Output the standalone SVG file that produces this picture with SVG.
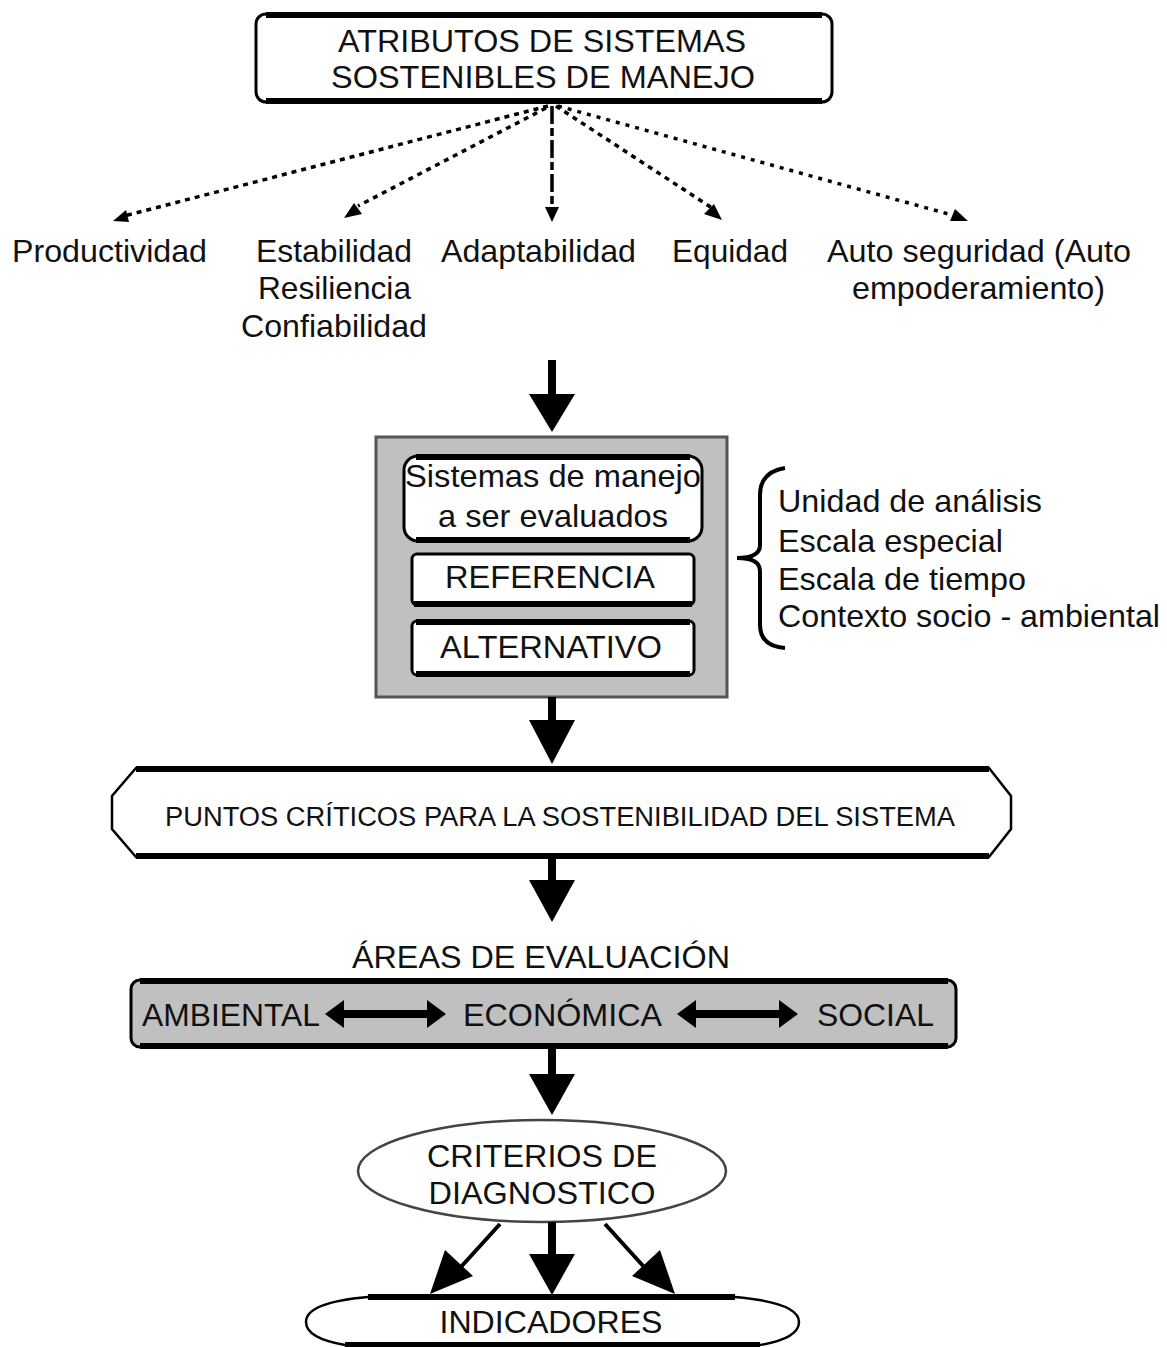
<svg xmlns="http://www.w3.org/2000/svg" width="1167" height="1347" viewBox="0 0 1167 1347">
<style>
text{font-family:"Liberation Sans",Arial,sans-serif;fill:#111;}
.t30{font-size:32px;}
.dot{stroke:#000;stroke-width:3.5;fill:none;stroke-dasharray:5 5;}
.thin{stroke:#000;stroke-width:2.5;fill:none;}
.thick{stroke:#000;stroke-width:6;fill:none;}
.shaft{stroke:#000;stroke-width:8;fill:none;}
</style>
<rect width="1167" height="1347" fill="#fff"/>
<g id="node-atributos">
  <rect x="256" y="14" width="576" height="88" rx="10" class="thin" style="stroke-width:3"/>
  <line class="thick" x1="266" y1="15" x2="822" y2="15"/>
  <line class="thick" x1="266" y1="101" x2="822" y2="101"/>
  <text class="t30" x="542" y="52" text-anchor="middle" textLength="408" lengthAdjust="spacingAndGlyphs">ATRIBUTOS DE SISTEMAS</text>
  <text class="t30" x="543" y="88" text-anchor="middle" textLength="424" lengthAdjust="spacingAndGlyphs">SOSTENIBLES DE MANEJO</text>
</g>
<g id="node-productividad">
  <text class="t30" x="12" y="262" textLength="195" lengthAdjust="spacingAndGlyphs">Productividad</text>
</g>
<g id="node-estabilidad">
  <text class="t30" x="256" y="262" textLength="156" lengthAdjust="spacingAndGlyphs">Estabilidad</text>
  <text class="t30" x="258" y="299" textLength="153" lengthAdjust="spacingAndGlyphs">Resiliencia</text>
  <text class="t30" x="241" y="337" textLength="186" lengthAdjust="spacingAndGlyphs">Confiabilidad</text>
</g>
<g id="node-adaptabilidad">
  <text class="t30" x="441" y="262" textLength="195" lengthAdjust="spacingAndGlyphs">Adaptabilidad</text>
</g>
<g id="node-equidad">
  <text class="t30" x="672" y="262" textLength="116" lengthAdjust="spacingAndGlyphs">Equidad</text>
</g>
<g id="node-autoseguridad">
  <text class="t30" x="827" y="262" textLength="304" lengthAdjust="spacingAndGlyphs">Auto seguridad (Auto</text>
  <text class="t30" x="852" y="299" textLength="253" lengthAdjust="spacingAndGlyphs">empoderamiento)</text>
</g>
<g id="node-sistemas">
  <rect x="376" y="437" width="351" height="260" fill="#c0c0c0" stroke="#555" stroke-width="3"/>
  <rect x="404" y="456" width="298" height="85" rx="14" fill="#fff" stroke="#000" stroke-width="3"/>
  <line class="thick" x1="416" y1="457" x2="690" y2="457"/>
  <line class="thick" x1="416" y1="540" x2="690" y2="540"/>
  <text class="t30" x="553" y="487" text-anchor="middle" textLength="296" lengthAdjust="spacingAndGlyphs">Sistemas de manejo</text>
  <text class="t30" x="553" y="527" text-anchor="middle" textLength="230" lengthAdjust="spacingAndGlyphs">a ser evaluados</text>
  <rect x="412" y="554" width="282" height="51" rx="5" fill="#fff" stroke="#000" stroke-width="3"/>
  <line class="thick" x1="414" y1="604" x2="692" y2="604"/>
  <text class="t30" x="550" y="588" text-anchor="middle" textLength="210" lengthAdjust="spacingAndGlyphs">REFERENCIA</text>
  <rect x="412" y="621" width="282" height="54" rx="5" fill="#fff" stroke="#000" stroke-width="3"/>
  <line class="thick" x1="416" y1="622" x2="690" y2="622"/>
  <line class="thick" x1="416" y1="674" x2="690" y2="674"/>
  <text class="t30" x="551" y="658" text-anchor="middle" textLength="222" lengthAdjust="spacingAndGlyphs">ALTERNATIVO</text>
</g>
<g id="node-contexto">
  <path d="M785,468 Q760,472 760,495 L760,545 Q760,558 737,558 Q760,558 760,571 L760,625 Q760,646 785,648" fill="none" stroke="#000" stroke-width="4"/>
  <text class="t30" x="778" y="512" textLength="264" lengthAdjust="spacingAndGlyphs">Unidad de análisis</text>
  <text class="t30" x="778" y="552" textLength="225" lengthAdjust="spacingAndGlyphs">Escala especial</text>
  <text class="t30" x="778" y="590" textLength="248" lengthAdjust="spacingAndGlyphs">Escala de tiempo</text>
  <text class="t30" x="778" y="627" textLength="382" lengthAdjust="spacingAndGlyphs">Contexto socio - ambiental</text>
</g>
<g id="node-puntos">
  <polygon points="136,768 989,768 1011,796 1011,829 989,857 136,857 112,829 112,796" fill="#fff" stroke="#000" stroke-width="2.5"/>
  <line class="thick" x1="136" y1="769" x2="989" y2="769"/>
  <line class="thick" x1="136" y1="856" x2="989" y2="856"/>
  <text x="560" y="826" text-anchor="middle" style="font-size:27px" textLength="790" lengthAdjust="spacingAndGlyphs">PUNTOS CRÍTICOS PARA LA SOSTENIBILIDAD DEL SISTEMA</text>
</g>
<g id="node-areas">
  <text class="t30" x="541" y="968" text-anchor="middle" textLength="378" lengthAdjust="spacingAndGlyphs">ÁREAS DE EVALUACIÓN</text>
  <rect x="131" y="980" width="825" height="67" rx="9" fill="#c0c0c0" stroke="#000" stroke-width="3"/>
  <line class="thick" x1="140" y1="981" x2="948" y2="981"/>
  <line class="thick" x1="140" y1="1046" x2="948" y2="1046"/>
  <text class="t30" x="142" y="1026" textLength="178" lengthAdjust="spacingAndGlyphs">AMBIENTAL</text>
  <text class="t30" x="463" y="1026" textLength="199" lengthAdjust="spacingAndGlyphs">ECONÓMICA</text>
  <text class="t30" x="817" y="1026" textLength="117" lengthAdjust="spacingAndGlyphs">SOCIAL</text>
</g>
<g id="node-criterios">
  <ellipse cx="542" cy="1171" rx="184" ry="51" fill="#fff" stroke="#444" stroke-width="2.5"/>
  <text class="t30" x="542" y="1167" text-anchor="middle" textLength="230" lengthAdjust="spacingAndGlyphs">CRITERIOS DE</text>
  <text class="t30" x="542" y="1204" text-anchor="middle" textLength="227" lengthAdjust="spacingAndGlyphs">DIAGNOSTICO</text>
</g>
<g id="node-indicadores">
  <path d="M368,1297 L735,1297 C782,1301 799,1310 799,1322 C799,1334 784,1341 760,1345 L345,1345 C322,1341 306,1334 306,1322 C306,1310 322,1301 368,1297 Z" fill="#fff" stroke="#000" stroke-width="2.5"/>
  <line class="thick" x1="368" y1="1297" x2="735" y2="1297"/>
  <line class="thick" x1="345" y1="1345" x2="760" y2="1345"/>
  <text class="t30" x="551" y="1333" text-anchor="middle" textLength="223" lengthAdjust="spacingAndGlyphs">INDICADORES</text>
</g>
<g id="connectors">
  <line class="dot" x1="548" y1="106" x2="124" y2="216"/>
  <polygon points="113,221 126,210 129,222"/>
  <line class="dot" x1="546" y1="108" x2="358" y2="206"/>
  <polygon points="344,218 354,203 362,214"/>
  <line class="dot" x1="552" y1="106" x2="552" y2="208" style="stroke-dasharray:18 4 8 4"/>
  <polygon points="545,207 559,207 552,222"/>
  <line class="dot" x1="556" y1="106" x2="712" y2="208"/>
  <polygon points="722,220 704,214 714,204"/>
  <line class="dot" x1="558" y1="106" x2="952" y2="215" style="stroke-dasharray:4 6"/>
  <polygon points="968,221 950,221 955,209"/>
  <line class="shaft" x1="552" y1="360" x2="552" y2="398"/>
  <polygon points="529,394 575,394 552,432"/>
  <line class="shaft" x1="552" y1="697" x2="552" y2="724"/>
  <polygon points="529,720 575,720 552,764"/>
  <line class="shaft" x1="552" y1="858" x2="552" y2="884"/>
  <polygon points="529,880 575,880 552,922"/>
  <line class="shaft" x1="552" y1="1048" x2="552" y2="1078"/>
  <polygon points="529,1074 575,1074 552,1115"/>
  <line class="shaft" x1="552" y1="1222" x2="552" y2="1258"/>
  <polygon points="529,1254 575,1254 552,1295"/>
  <line class="thin" x1="500" y1="1224" x2="460" y2="1268" style="stroke-width:4"/>
  <polygon points="430,1294 445,1250 473,1276"/>
  <line class="thin" x1="605" y1="1224" x2="645" y2="1268" style="stroke-width:4"/>
  <polygon points="675,1294 660,1250 632,1276"/>
  <line class="shaft" x1="342" y1="1014" x2="430" y2="1014"/>
  <polygon points="325,1014 344,1000 344,1028"/>
  <polygon points="446,1014 427,1000 427,1028"/>
  <line class="shaft" x1="694" y1="1014" x2="782" y2="1014"/>
  <polygon points="677,1014 696,1000 696,1028"/>
  <polygon points="798,1014 779,1000 779,1028"/>
</g>
</svg>
